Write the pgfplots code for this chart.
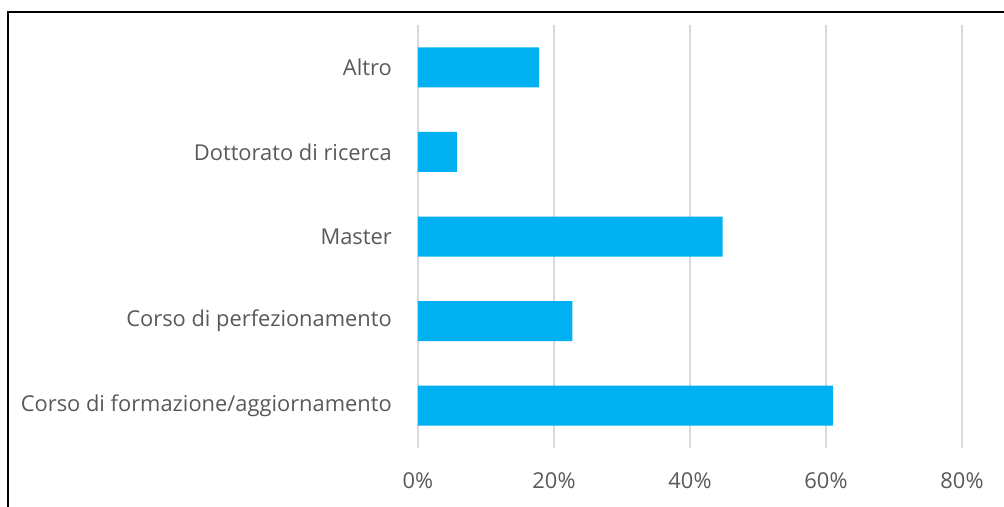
\documentclass[border=0pt]{standalone}
\usepackage{pgfplots}
\pgfplotsset{compat=1.18}
\usepackage{fontspec}
\setmainfont{Open Sans}
\definecolor{barblue}{HTML}{00B0F0}
\definecolor{txtgray}{HTML}{595959}
\definecolor{gridgray}{HTML}{D9D9D9}
\begin{document}
\fontsize{16.4pt}{19pt}\selectfont
\begin{tikzpicture}[x=0.75pt,y=0.75pt]
\useasboundingbox (-418,-59) rectangle (586,448);
\draw[line width=1.6pt,black] (-410,-59) -- (-410,436) -- (586,436);
\begin{axis}[
  name=ax, anchor=south west, at={(0pt,0pt)},
  width=408pt, height=317.25pt, scale only axis,
  xbar, bar width=30pt,
  xmin=0, xmax=80,
  ymin=-0.5, ymax=4.5,
  xtick={0,20,40,60,80},
  xticklabels={0\%,20\%,40\%,60\%,80\%},
  ytick={0,1,2,3,4},
  yticklabels={Corso di formazione/aggiornamento,Corso di perfezionamento,Master,Dottorato di ricerca,Altro},
  xmajorgrids, major grid style={gridgray, line width=1.4pt},
  axis line style={draw=none},
  major tick length=0pt,
  tick label style={font=\fontsize{16.4pt}{19pt}\selectfont, text=txtgray},
  xticklabel style={yshift=-13pt},
  yticklabel style={xshift=-14pt},
  clip=false,
]
\addplot[fill=barblue, draw=none] coordinates {
  (61.0,0) (22.7,1) (44.8,2) (5.7,3) (17.8,4)
};
\end{axis}
\end{tikzpicture}
\end{document}
